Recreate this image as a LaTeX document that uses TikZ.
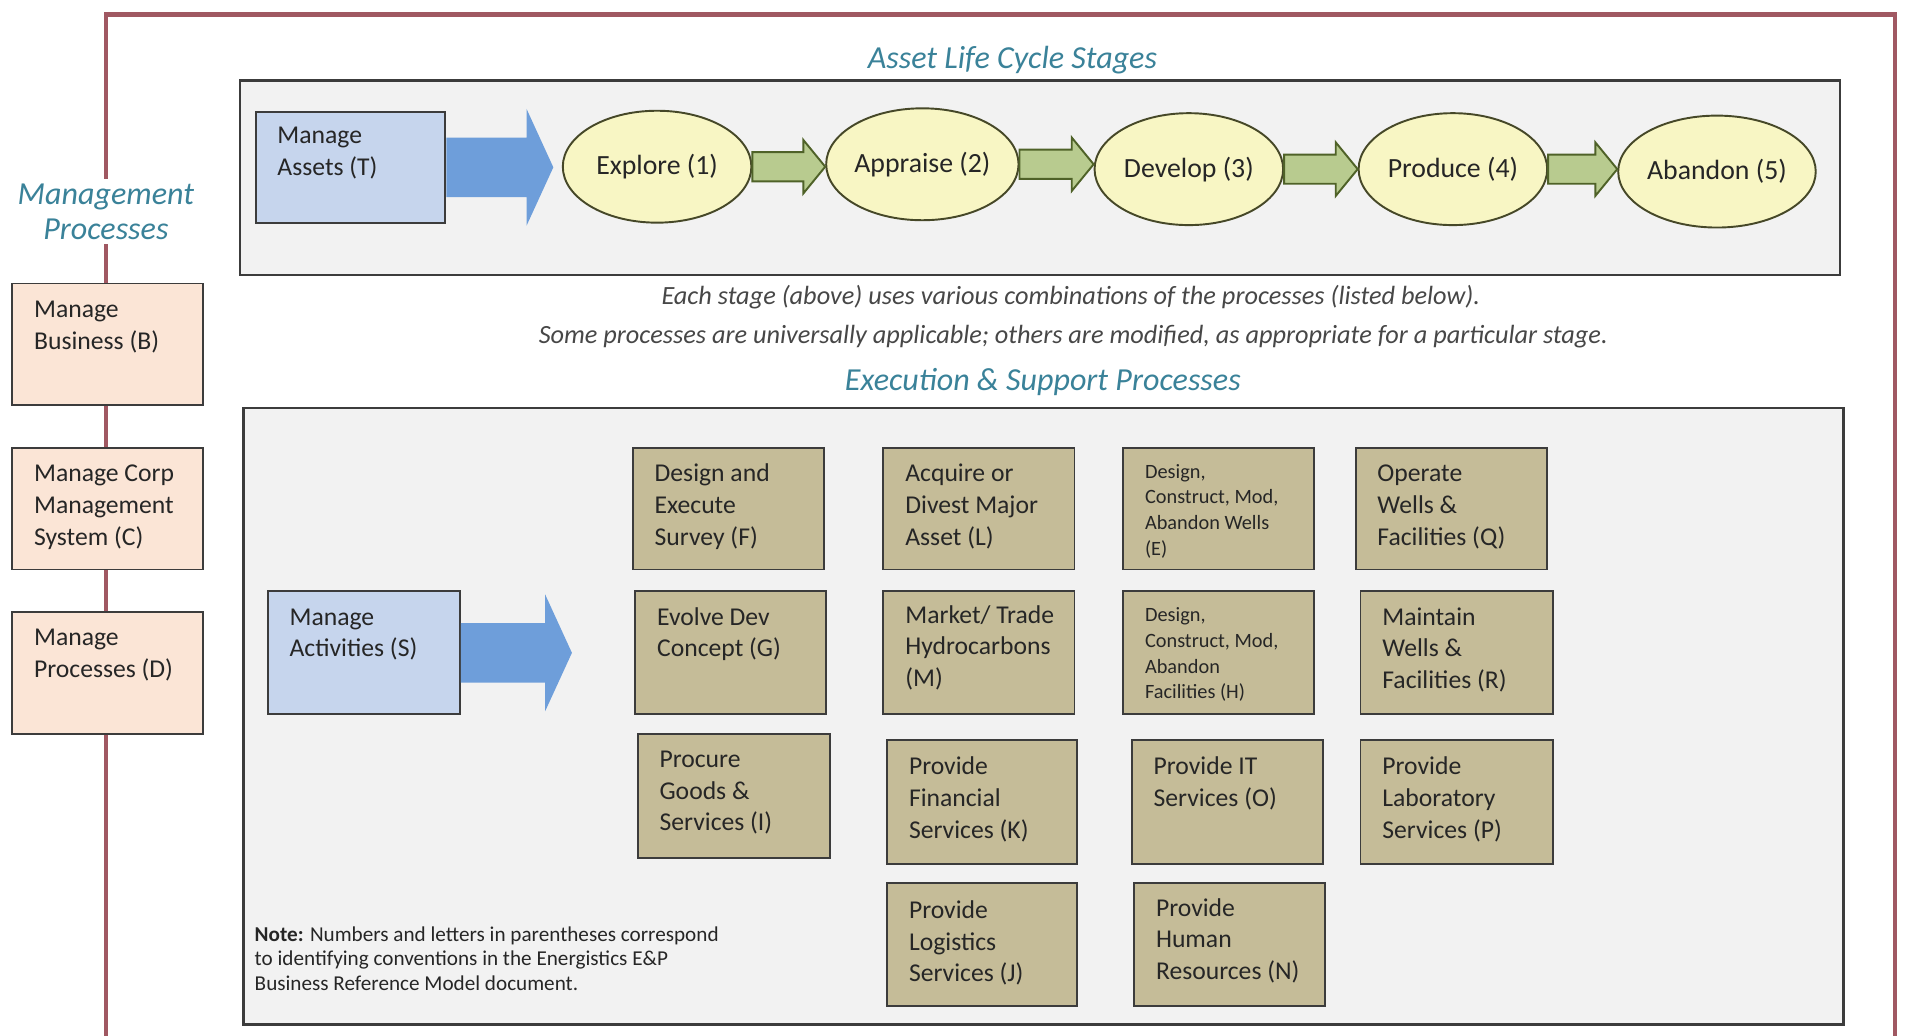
\documentclass[tikz,border=0pt]{standalone}
\usepackage{fontspec}
\setmainfont{Carlito}
\usetikzlibrary{shapes.geometric,calc}

\definecolor{framered}{RGB}{160,88,98}
\definecolor{panelfill}{RGB}{242,242,242}
\definecolor{panelline}{RGB}{60,60,60}
\definecolor{peach}{RGB}{251,229,214}
\definecolor{lightblue}{RGB}{198,213,237}
\definecolor{arrowblue}{RGB}{110,158,218}
\definecolor{stagefill}{RGB}{248,246,196}
\definecolor{stageline}{RGB}{70,72,40}
\definecolor{arrowgreen}{RGB}{184,203,143}
\definecolor{arrowedge}{RGB}{79,98,40}
\definecolor{tanfill}{RGB}{197,188,152}
\definecolor{tealtext}{RGB}{58,130,153}
\definecolor{inkgray}{RGB}{38,38,38}

% box text: width, height, space above first line, text (top-left aligned)
\newcommand{\celltext}[4]{\makebox[#1][l]{\hspace*{0.36cm}\parbox[c][#2][t]{\dimexpr#1-0.40cm\relax}{\raggedright\vspace*{#3}\strut#4}}}

\begin{document}
\begin{tikzpicture}[x=0.02cm, y=-0.02cm,
  cellbase/.style={draw=panelline, line width=0.9pt, inner sep=0pt, text=inkgray,
    font=\fontsize{12}{14.8}\selectfont},
  smallcell/.style={font=\fontsize{9.5}{12}\selectfont},
  peachbox/.style={cellbase, fill=peach},
  bluebox/.style={cellbase, fill=lightblue},
  tanbox/.style={cellbase, fill=tanfill},
  panel/.style={draw=panelline, line width=1.1pt, fill=panelfill, inner sep=0pt},
  stage/.style={ellipse, draw=stageline, line width=0.9pt, fill=stagefill, inner sep=0pt,
    minimum width=3.1cm, minimum height=1.84cm, text=inkgray, font=\fontsize{13}{16}\selectfont},
  heading/.style={text=tealtext, font=\fontsize{15}{18}\selectfont\itshape},
  remark/.style={text=inkgray!85, font=\fontsize{12.3}{14}\selectfont\itshape},
  fatarrow/.style n args={3}{to path={let \p1=(\tikztostart), \p2=(\tikztotarget) in
    (\x1,\y1+#1) -- (\x2-#3,\y1+#1) -- (\x2-#3,\y1+#2) -- (\x2,\y1) --
    (\x2-#3,\y1-#2) -- (\x2-#3,\y1-#1) -- (\x1,\y1-#1) -- cycle}},
  greenarrow/.style={fill=arrowgreen, draw=arrowedge, line width=0.9pt, line join=miter,
    fatarrow={0.24cm}{0.44cm}{0.36cm}},
  bluearrow/.style={fill=arrowblue, draw=none, fatarrow={0.49cm}{0.96cm}{0.44cm}}
]
\useasboundingbox (0,0) rectangle (1568,851);
\fill[white] (0,0) rectangle (1568,851);

% outer frame; its left side doubles as the spine of the management column
\draw[framered, line width=2pt] (87,853) -- (87,12) -- (1557,12) -- (1557,853);

% panels
\node[panel, minimum width=26.3cm, minimum height=3.2cm] (upper) at (854.5,146) {};
\node[panel, minimum width=26.3cm, minimum height=10.14cm] (lower) at (857.5,588.5) {};

% headings and remarks
\node[heading] (lifehead) at (832,49) {Asset Life Cycle Stages};
\node[heading] (exechead) at (857,314) {Execution \& Support Processes};
\node[remark] (remark1) at (880,244) {Each stage (above) uses various combinations of the processes (listed below).};
\node[remark] (remark2) at (882,277) {Some processes are universally applicable; others are modified, as appropriate for a particular stage.};

% management processes column
\node[fill=white, inner sep=2pt, align=center, text=tealtext,
  font=\fontsize{15}{16.5}\selectfont\itshape] (mgmt) at (87,174) {Management\\Processes};
\node[peachbox] (B) at (88.5,283) {\celltext{3.14cm}{2.0cm}{5.5pt}{Manage\\Business (B)}};
\node[peachbox] (C) at (88.5,418) {\celltext{3.14cm}{2.0cm}{5.5pt}{Manage Corp\\Management\\System (C)}};
\node[peachbox] (D) at (88.5,553) {\celltext{3.14cm}{2.0cm}{5.5pt}{Manage\\Processes (D)}};

% life cycle stages
\node[bluebox] (T) at (288,137.5) {\celltext{3.12cm}{1.82cm}{4.5pt}{Manage\\Assets (T)}};
\node[stage] (e1) at (540,137) {Explore (1)};
\node[stage] (e2) at (758,135) {Appraise (2)};
\node[stage] (e3) at (977,139) {Develop (3)};
\node[stage] (e4) at (1194,139) {Produce (4)};
\node[stage] (e5) at (1411,141) {Abandon (5)};
\coordinate (Tgoal) at ($(e1.west)+(-7,0)$);
\draw[bluearrow] (T.east) to (Tgoal);
\draw[greenarrow] (e1.east) to (e2.west);
\draw[greenarrow] (e2.east) to (e3.west);
\draw[greenarrow] (e3.east) to (e4.west);
\draw[greenarrow] (e4.east) to (e5.west);

% execution and support processes
\node[bluebox] (S) at (299,536.5) {\celltext{3.16cm}{2.02cm}{5.5pt}{Manage\\Activities (S)}};
\coordinate (Sgoal) at (470,538);
\draw[bluearrow] (S.east) to (Sgoal);

\node[tanbox] (F) at (598.5,418) {\celltext{3.14cm}{2.0cm}{5.5pt}{Design and\\Execute\\Survey (F)}};
\node[tanbox] (G) at (600.5,536.5) {\celltext{3.14cm}{2.02cm}{5.5pt}{Evolve Dev\\Concept (G)}};
\node[tanbox] (I) at (603,654) {\celltext{3.16cm}{2.04cm}{5.5pt}{Procure\\Goods \&\\Services (I)}};

\node[tanbox] (L) at (804.5,418) {\celltext{3.14cm}{2.0cm}{5.5pt}{Acquire or\\Divest Major\\Asset (L)}};
\node[tanbox] (M) at (804.5,536.5) {\celltext{3.14cm}{2.02cm}{4.5pt}{Market/ Trade\\Hydrocarbons\\(M)}};
\node[tanbox] (K) at (807,659) {\celltext{3.12cm}{2.04cm}{6pt}{Provide\\Financial\\Services (K)}};
\node[tanbox] (J) at (807,776.5) {\celltext{3.12cm}{2.02cm}{6pt}{Provide\\Logistics\\Services (J)}};

\node[tanbox, smallcell] (E) at (1001.5,418) {\celltext{3.14cm}{2.0cm}{5.8pt}{Design,\\Construct, Mod,\\Abandon Wells\\(E)}};
\node[tanbox, smallcell] (H) at (1001.5,536.5) {\celltext{3.14cm}{2.02cm}{5.8pt}{Design,\\Construct, Mod,\\Abandon\\Facilities (H)}};
\node[tanbox] (O) at (1008.5,659) {\celltext{3.14cm}{2.04cm}{6pt}{Provide IT\\Services (O)}};
\node[tanbox] (N) at (1010.5,776.5) {\celltext{3.14cm}{2.02cm}{5pt}{Provide\\Human\\Resources (N)}};

\node[tanbox] (Q) at (1192.5,418) {\celltext{3.14cm}{2.0cm}{5.5pt}{Operate\\Wells \&\\Facilities (Q)}};
\node[tanbox] (R) at (1197,536.5) {\celltext{3.16cm}{2.02cm}{5.5pt}{Maintain\\Wells \&\\Facilities (R)}};
\node[tanbox] (P) at (1197,659) {\celltext{3.16cm}{2.04cm}{6pt}{Provide\\Laboratory\\Services (P)}};

% footnote
\node[anchor=north west, align=left, inner sep=0pt, text=inkgray,
  font=\fontsize{9.9}{11.6}\selectfont] (note) at (209,761)
  {\textbf{Note:} Numbers and letters in parentheses correspond\\to identifying conventions in the Energistics E\&P\\Business Reference Model document.};
\end{tikzpicture}
\end{document}
